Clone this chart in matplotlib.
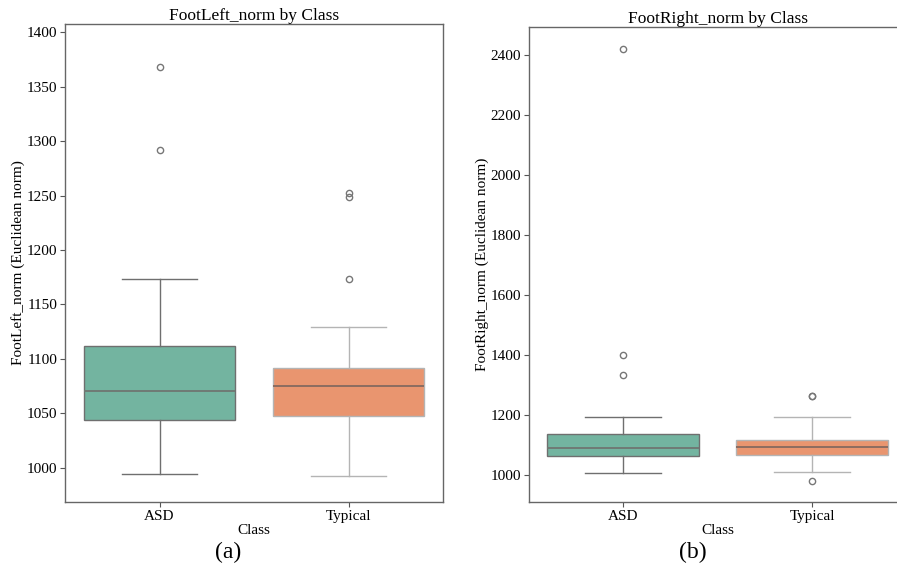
import matplotlib
matplotlib.use("Agg")
import matplotlib.pyplot as plt

plt.rcParams['font.family'] = ['Liberation Serif', 'DejaVu Serif']

classes = ["ASD", "Typical"]
colors = ["#73b4a0", "#e9956f"]
line_colors = ["#6f6f6f", "#b4b4b4"]
median_colors = ["#6f7a74", "#8c6c60"]

# FootLeft_norm box stats (whislo, q1, med, q3, whishi) and outliers
left_whislo = [994.5, 992.0]
left_q1 = [1044.1, 1047.2]
left_med = [1070.8, 1074.8]
left_q3 = [1111.8, 1091.6]
left_whishi = [1172.9, 1129.0]
left_fliers = [[1368.1, 1292.0], [1251.9, 1248.8, 1173.1]]

# FootRight_norm
right_whislo = [1009.0, 1011.0]
right_q1 = [1064.0, 1068.0]
right_med = [1092.0, 1094.0]
right_q3 = [1139.0, 1119.0]
right_whishi = [1194.0, 1194.0]
right_fliers = [[2421.0, 1401.0, 1336.0], [1266.0, 1263.0, 980.0]]


def make_stats(whislo, q1, med, q3, whishi, fliers):
    stats = []
    for i in range(len(classes)):
        stats.append(dict(whislo=whislo[i], q1=q1[i], med=med[i], q3=q3[i],
                          whishi=whishi[i], fliers=fliers[i], label=classes[i]))
    return stats


def draw_panel(ax, stats, title, ylabel):
    for i, s in enumerate(stats):
        lc = line_colors[i]
        ax.bxp([s], positions=[i], widths=0.8, patch_artist=True, manage_ticks=False,
               boxprops=dict(facecolor=colors[i], edgecolor=lc, linewidth=1.0),
               whiskerprops=dict(color=lc, linewidth=1.0),
               capprops=dict(color=lc, linewidth=1.0),
               medianprops=dict(color=median_colors[i], linewidth=1.4),
               flierprops=dict(marker='o', markersize=4.5, markerfacecolor='none',
                               markeredgecolor='#777777', markeredgewidth=1.0),
               capwidths=0.4)
    ax.set_xlim(-0.5, 1.5)
    ax.set_xticks(range(len(classes)))
    ax.set_xticklabels(classes)
    ax.set_title(title, fontsize=12.5, pad=3)
    ax.set_xlabel("Class", fontsize=11, labelpad=1)
    ax.set_ylabel(ylabel, fontsize=11, labelpad=1)
    ax.tick_params(labelsize=11, color='#555555', length=3.5, pad=2)
    for sp in ax.spines.values():
        sp.set_color('#666666')
        sp.set_linewidth(1.0)


fig = plt.figure(figsize=(8.97, 5.71), dpi=100)
W, H = 897.0, 571.0

ax1 = fig.add_axes([65 / W, 1 - 502 / H, (443 - 65) / W, (502 - 24) / H])
draw_panel(ax1, make_stats(left_whislo, left_q1, left_med, left_q3, left_whishi, left_fliers),
           "FootLeft_norm by Class", "FootLeft_norm (Euclidean norm)")
ax1.set_ylim(968.4, 1407.6)
ax1.set_yticks([1000, 1050, 1100, 1150, 1200, 1250, 1300, 1350, 1400])

ax2 = fig.add_axes([528.5 / W, 1 - 502 / H, (906.5 - 528.5) / W, (502 - 27) / H])
draw_panel(ax2, make_stats(right_whislo, right_q1, right_med, right_q3, right_whishi, right_fliers),
           "FootRight_norm by Class", "FootRight_norm (Euclidean norm)")
ax2.set_ylim(911, 2495)
ax2.set_yticks([1000, 1200, 1400, 1600, 1800, 2000, 2200, 2400])

fig.text(228 / W, 1 - 552 / H, "(a)", fontsize=17, ha='center', va='center')
fig.text(693 / W, 1 - 552 / H, "(b)", fontsize=17, ha='center', va='center')

fig.savefig("out.png", dpi=100)
